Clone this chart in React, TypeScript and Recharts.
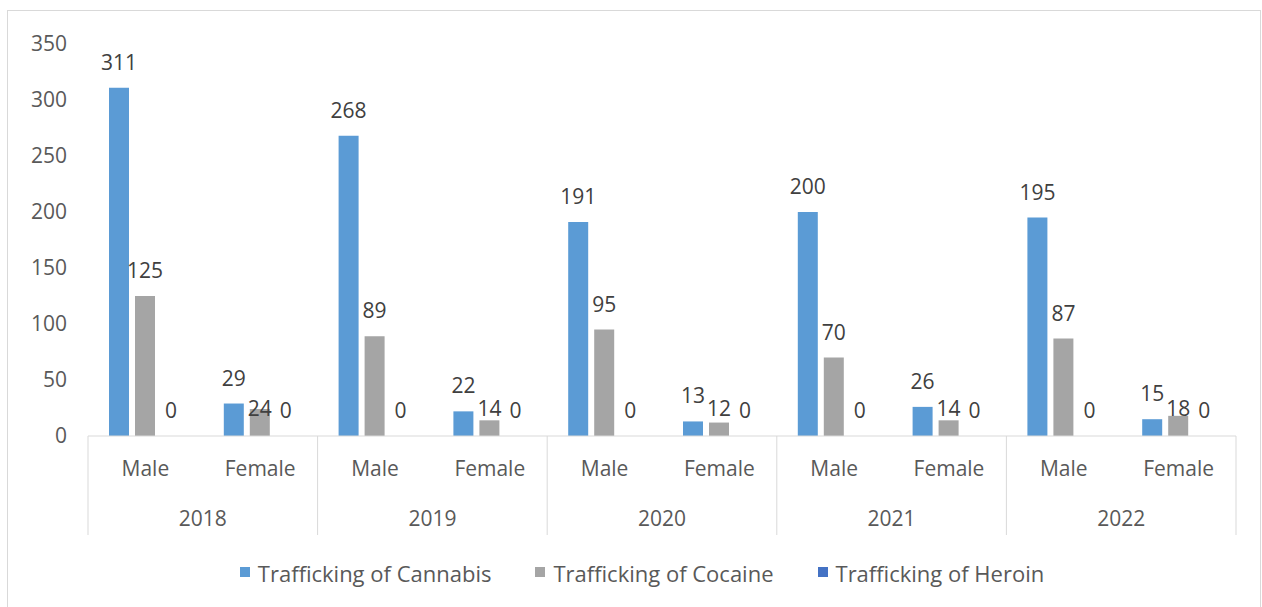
import { BarChart, Bar, XAxis, YAxis, Legend, LabelList, Rectangle } from "recharts";

// 범주 (연도 × 성별)
const years = ["2018", "2018", "2019", "2019", "2020", "2020", "2021", "2021", "2022", "2022"];
const genders = ["Male", "Female", "Male", "Female", "Male", "Female", "Male", "Female", "Male", "Female"];

// 시리즈 값
const cannabis = [311, 29, 268, 22, 191, 13, 200, 26, 195, 15];
const cocaine = [125, 24, 89, 14, 95, 12, 70, 14, 87, 18];
const heroin = [0, 0, 0, 0, 0, 0, 0, 0, 0, 0];

const yTicks = [0, 50, 100, 150, 200, 250, 300, 350];

const seriesKeys = ["cannabis", "cocaine", "heroin"];
const seriesNames = ["Trafficking of Cannabis", "Trafficking of Cocaine", "Trafficking of Heroin"];
const seriesColors = ["#5B9BD5", "#A5A5A5", "#4472C4"];

const FONT = "'Open Sans', sans-serif";
const AXIS_TEXT = "#595959";
const LABEL_TEXT = "#404040";
const LINE = "#D9D9D9";

const CHART_W = 1252;
const CHART_H = 596;
const MARGIN = { top: 33, right: 24, left: 0, bottom: 37 };
const Y_AXIS_W = 80;
const GENDER_H = 50;
const YEAR_H = 54;
const PLOT_W = CHART_W - MARGIN.left - MARGIN.right - Y_AXIS_W;
const GROUP_W = PLOT_W / 5;

const chartData = genders.map((g, i) => ({
  gender: g,
  year: years[i],
  cannabis: cannabis[i],
  cocaine: cocaine[i],
  heroin: heroin[i],
}));

function GenderTick({ x, y, payload }: any) {
  return (
    <text x={x} y={y + 40} textAnchor="middle" fill={AXIS_TEXT} fontSize={21} fontFamily={FONT}>
      {payload.value}
    </text>
  );
}

function YearTick({ x, y, payload, index, visibleTicksCount }: any) {
  const left = x - GROUP_W / 2;
  const right = x + GROUP_W / 2;
  return (
    <g>
      <line x1={left} x2={left} y1={y - GENDER_H} y2={y + 49} stroke={LINE} />
      {index === visibleTicksCount - 1 && (
        <line x1={right} x2={right} y1={y - GENDER_H} y2={y + 49} stroke={LINE} />
      )}
      <text x={x} y={y + 40} textAnchor="middle" fill={AXIS_TEXT} fontSize={21} fontFamily={FONT}>
        {payload.value}
      </text>
    </g>
  );
}

// 0 값 막대는 그리지 않음 (라벨 위치만 필요)
function BarShape(props: any) {
  if (!props.value) return <g />;
  return <Rectangle {...props} />;
}

// 엑셀처럼 여성 코카인 라벨은 0 라벨 높이 쪽으로 내려 배치
function makeLabel(key: string) {
  return function BarLabel(props: any) {
    const { x, y, width, height, value, index } = props;
    const bottom = y + height;
    let baseline = y - 18;
    if (!value) baseline = bottom - 18;
    else if (key === "cocaine" && genders[index] === "Female") baseline = bottom - 20;
    return (
      <text
        x={x + width / 2}
        y={baseline}
        textAnchor="middle"
        fill={LABEL_TEXT}
        fontSize={21}
        fontFamily={FONT}
      >
        {value}
      </text>
    );
  };
}

function LegendContent() {
  return (
    <div
      style={{
        display: "flex",
        justifyContent: "center",
        alignItems: "center",
        gap: 44,
        height: 30,
        paddingLeft: 16,
        fontFamily: FONT,
        fontSize: 22,
        color: AXIS_TEXT,
      }}
    >
      {seriesNames.map((name, i) => (
        <div key={name} style={{ display: "flex", alignItems: "center" }}>
          <span
            style={{ width: 10, height: 10, background: seriesColors[i], marginRight: 8, marginTop: -3 }}
          />
          <span>{name}</span>
        </div>
      ))}
    </div>
  );
}

export default function App() {
  return (
    <>
      <style>{"body{margin:0;overflow:hidden;}"}</style>
      <div
        style={{
          marginTop: 10,
          marginLeft: 7,
          width: 1254,
          height: 597,
          boxSizing: "border-box",
          borderTop: `1px solid ${LINE}`,
          borderLeft: `1px solid ${LINE}`,
          borderRight: `1px solid ${LINE}`,
          background: "#fff",
        }}
      >
        <BarChart
          width={CHART_W}
          height={CHART_H}
          data={chartData}
          margin={MARGIN}
          barSize={20}
          barGap={6}
        >
          <XAxis
            dataKey="gender"
            height={GENDER_H}
            tick={<GenderTick />}
            tickLine={false}
            tickSize={0}
            tickMargin={0}
            axisLine={{ stroke: LINE }}
            interval={0}
          />
          <XAxis
            xAxisId="year"
            dataKey="year"
            allowDuplicatedCategory={false}
            height={YEAR_H}
            tick={<YearTick />}
            tickLine={false}
            tickSize={0}
            tickMargin={0}
            axisLine={false}
            interval={0}
          />
          <YAxis
            width={Y_AXIS_W}
            domain={[0, 350]}
            ticks={yTicks}
            axisLine={false}
            tickLine={false}
            tickSize={0}
            tickMargin={21}
            tick={{ fill: AXIS_TEXT, fontSize: 21, fontFamily: FONT }}
          />
          <Legend
            content={<LegendContent />}
            verticalAlign="bottom"
            wrapperStyle={{ top: 547, bottom: "auto", left: 0, width: CHART_W, height: 30 }}
          />
          {seriesKeys.map((key, i) => (
            <Bar
              key={key}
              dataKey={key}
              name={seriesNames[i]}
              fill={seriesColors[i]}
              minPointSize={1}
              shape={<BarShape />}
              isAnimationActive={false}
            >
              <LabelList dataKey={key} content={makeLabel(key)} />
            </Bar>
          ))}
        </BarChart>
      </div>
    </>
  );
}
